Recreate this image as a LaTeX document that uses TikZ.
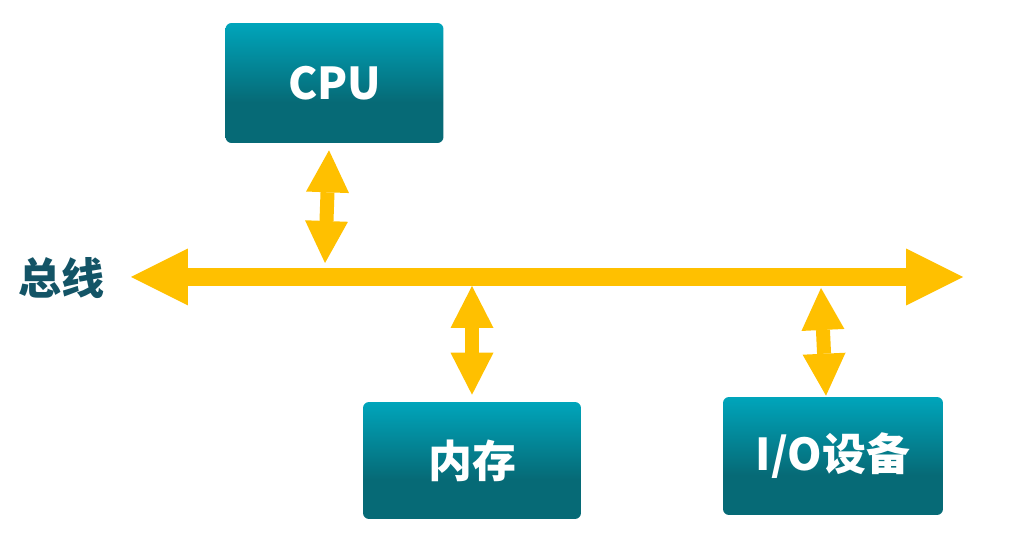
\documentclass[tikz,border=0pt]{standalone}
\usepackage{fontspec}
\usepackage{tikz}
\usetikzlibrary{arrows.meta}
\newfontfamily\cjk{Noto Sans CJK SC}
\definecolor{boxlight}{RGB}{0,165,187}
\definecolor{boxdark}{RGB}{6,106,118}
\definecolor{busyellow}{RGB}{255,192,0}
\definecolor{labelteal}{RGB}{19,84,102}
\pgfdeclareverticalshading{boxshade}{100bp}{color(0bp)=(boxdark); color(25bp)=(boxdark); color(42bp)=(boxdark); color(75bp)=(boxlight); color(100bp)=(boxlight)}

\begin{document}
\begin{tikzpicture}
  [x=0.02cm,y=-0.02cm,
   unit/.style={rounded corners=0.12cm,shading=boxshade,draw=none,
     text=white,font=\cjk\bfseries\fontsize{25}{29}\selectfont},
   bus/.style={draw=busyellow,line width=0.38cm,
     arrows={Triangle[length=1.14cm,width=1.14cm,line width=0pt]-Triangle[length=1.14cm,width=1.14cm,line width=0pt]}},
   link/.style={draw=busyellow,line width=0.28cm,
     arrows={Triangle[length=0.84cm,width=0.86cm,line width=0pt]-Triangle[length=0.84cm,width=0.86cm,line width=0pt]}}]
  \useasboundingbox (0,0) rectangle (1014,550);

  \node[unit,minimum width=4.36cm,minimum height=2.4cm] (cpu) at (334.5,83) {CPU};
  \node[unit,minimum width=4.36cm,minimum height=2.34cm] (mem) at (472,460.5) {内存};
  \node[unit,minimum width=4.4cm,minimum height=2.36cm] (io) at (833,456) {I/O设备};
  \node[text=labelteal,font=\cjk\bfseries\fontsize{24.5}{28}\selectfont] (buslabel) at (62,278) {总线};

  % bus ends and taps
  \coordinate (busl) at (131,277);
  \coordinate (busr) at (963,277);
  \coordinate (cpubus) at (325,263);
  \coordinate (membus) at (472,286);
  \coordinate (iobus) at (821,288);

  \draw[bus] (busl) -- (busr);
  \draw[link] ([xshift=-0.11cm,yshift=-0.14cm]cpu.south) -- (cpubus);
  \draw[link] (membus) -- ([yshift=0.14cm]mem.north);
  \draw[link] (iobus) -- ([xshift=-0.14cm,yshift=0.02cm]io.north);
\end{tikzpicture}
\end{document}
